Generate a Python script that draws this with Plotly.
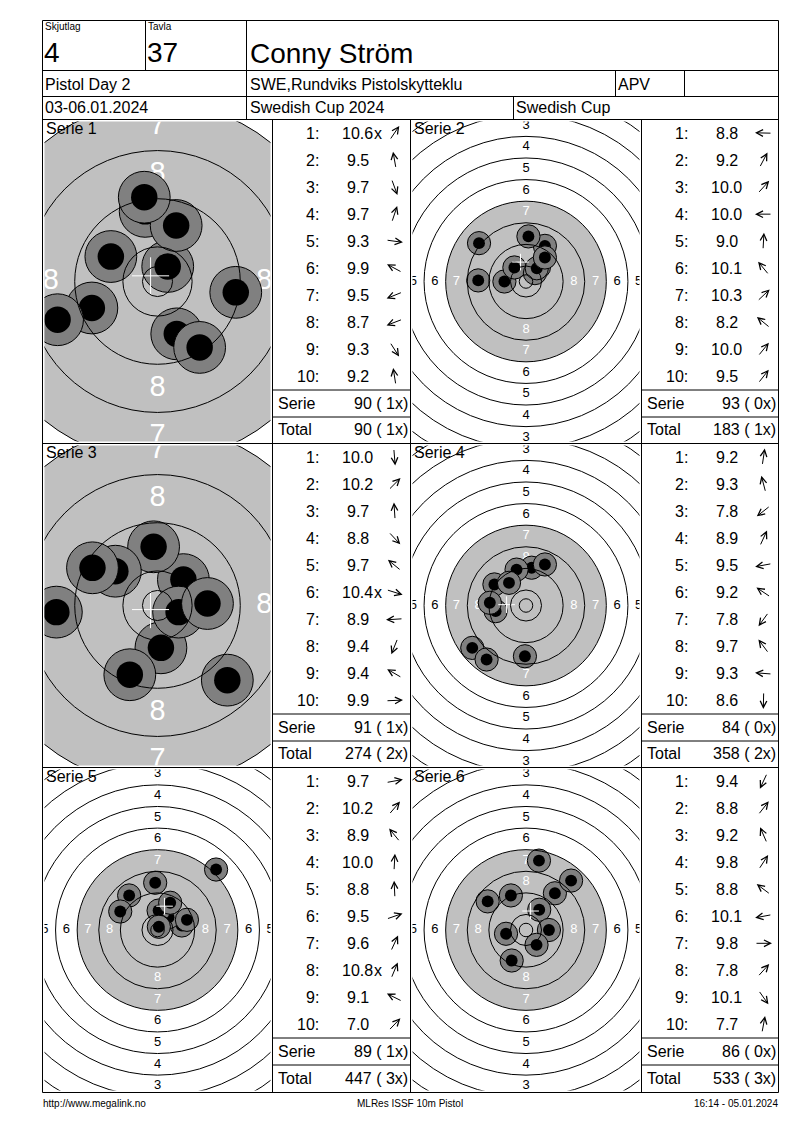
import math

import plotly.graph_objects as go

W, H = 800, 1130
FONT = "Liberation Sans, Arial, sans-serif"

# --- header / footer texts ---
RELAY_LABEL, RELAY = "Skjutlag", "4"
LANE_LABEL, LANE = "Tavla", "37"
SHOOTER = "Conny Ström"
EVENT = "Pistol Day 2"
CLUB = "SWE,Rundviks Pistolskytteklu"
CLASS = "APV"
DATES = "03-06.01.2024"
MATCH = "Swedish Cup 2024"
CUP = "Swedish Cup"
FOOT_LEFT = "http://www.megalink.no"
FOOT_MID = "MLRes ISSF 10m Pistol"
FOOT_RIGHT = "16:14 - 05.01.2024"

# --- ISSF 10m pistol target, radii in mm (ring 1 .. ring 10) ---
RING_R = [77.75, 69.75, 61.75, 53.75, 45.75, 37.75, 29.75, 21.75, 13.75, 5.75]
INNER_TEN_R = 2.5
AIM_R = 29.75
RING_LABELS = [1, 2, 3, 4, 5, 6, 7, 8]

# --- shots: score, position in mm from centre, inner tens (shot no.) ---
S1_SCORE = [10.6, 9.5, 9.7, 9.7, 9.3, 9.9, 9.5, 8.7, 9.3, 9.2]
S1_X = [1.7, -2.05, 3.2, 3.1, 13.0, -7.75, -10.9, -16.6, 7.0, -2.2]
S1_Y = [2.5, 11.65, -8.7, 9.3, -1.8, 4.15, -4.4, -6.35, -10.95, 14.0]
S1_INNER = [1]

S2_SCORE = [8.8, 9.2, 10.0, 10.0, 9.0, 10.1, 10.3, 8.2, 10.0, 9.5]
S2_X = [-17.7, 7.0, 4.8, -8.0, 0.9, -4.3, 3.3, -17.4, 4.0, 7.0]
S2_Y = [0.4, 13.2, 5.3, 0.0, 16.7, 5.2, 3.1, 14.2, 4.9, 8.9]
S2_INNER = []

S3_SCORE = [10.0, 10.2, 9.7, 8.8, 9.7, 10.4, 8.9, 9.4, 9.4, 9.9]
S3_X = [0.57, 4.3, -0.65, 11.6, -7.0, 3.5, -16.8, -4.6, -10.8, 8.3]
S3_Y = [-7.03, 4.3, 9.75, -12.4, 5.7, -1.1, -1.1, -11.5, 6.26, 0.33]
S3_INNER = [6]

S4_SCORE = [9.2, 9.3, 7.8, 8.9, 9.5, 9.2, 7.8, 9.7, 9.3, 8.6]
S4_X = [2.1, -3.5, -19.9, 7.0, -11.25, -11.7, -14.6, -6.3, -13.4, -0.4]
S4_Y = [14.0, 13.3, -15.7, 15.2, -2.1, 7.8, -20.0, 8.4, 1.0, -18.8]
S4_INNER = []

S5_SCORE = [9.7, 10.2, 8.9, 10.0, 8.8, 9.5, 9.6, 10.8, 9.1, 7.0]
S5_X = [9.0, 4.1, -10.5, 0.4, -0.86, 10.9, 4.7, 0.5, -13.8, 21.7]
S5_Y = [1.67, 4.75, 12.8, 7.2, 17.5, 3.77, 10.1, 1.2, 6.85, 22.4]
S5_INNER = [8]

S6_SCORE = [9.4, 8.8, 9.2, 9.8, 8.8, 10.1, 9.8, 7.8, 10.1, 7.7]
S6_X = [-5.3, 10.7, -5.6, 4.9, -14.2, -7.4, 8.5, 16.7, 3.9, 4.8]
S6_Y = [-11.3, 13.6, 12.8, 7.5, 10.6, -1.4, 0.0, 18.3, -5.5, 25.7]
S6_INNER = []

SERIES = [
    (S1_SCORE, S1_X, S1_Y, S1_INNER),
    (S2_SCORE, S2_X, S2_Y, S2_INNER),
    (S3_SCORE, S3_X, S3_Y, S3_INNER),
    (S4_SCORE, S4_X, S4_Y, S4_INNER),
    (S5_SCORE, S5_X, S5_Y, S5_INNER),
    (S6_SCORE, S6_X, S6_Y, S6_INNER),
]

# --- page geometry (px) ---
COLS = [42.5, 272.5, 410.5, 641.5, 778.5]
ROWS = [119.5, 443.5, 767.5, 1092.5]
ZOOM = [6.02, 2.70, 6.02, 2.70, 2.70, 2.70]   # px per mm, per serie
SHOT_R, DOT_R, CROSS_R = 4.3, 2.2, 2.2           # mm
AIM_GREY, SHOT_GREY = "#c0c0c0", "#808080"
ARROW_LEN = 17


def px(x):
    return x / W


def py(y):
    return 1 - y / H


fig = go.Figure()
shapes = []
notes = []


def line(x0, y0, x1, y1):
    shapes.append(dict(type="line", xref="paper", yref="paper",
                       x0=px(x0), y0=py(y0), x1=px(x1), y1=py(y1),
                       line=dict(color="black", width=1)))


def text(x, y, s, size=16, anchor="left", color="black"):
    notes.append(dict(x=px(x), y=py(y), xref="paper", yref="paper", text=s,
                      showarrow=False, xanchor=anchor, yanchor="middle",
                      font=dict(family=FONT, size=size, color=color)))


def arrow(xc, yc, deg):
    # flèche de direction du coup, centrée sur (xc, yc)
    a = math.radians(deg)
    dx, dy = math.cos(a) * ARROW_LEN / 2, -math.sin(a) * ARROW_LEN / 2
    notes.append(dict(x=px(xc + dx), y=py(yc + dy), xref="paper", yref="paper",
                      text="", showarrow=True, ax=-2 * dx, ay=-2 * dy,
                      arrowhead=5, arrowsize=1.3, arrowwidth=1, arrowcolor="black",
                      standoff=0, startstandoff=0))


# cadre + en-tête
line(42.5, 20.5, 778.5, 20.5)
line(42.5, 20.5, 42.5, ROWS[-1])
line(778.5, 20.5, 778.5, ROWS[-1])
for yy in (70.5, 96.5):
    line(42.5, yy, 778.5, yy)
for r in ROWS:
    line(42.5, r, 778.5, r)
line(145.5, 20.5, 145.5, 70.5)
line(246.5, 20.5, 246.5, 119.5)
line(615.5, 70.5, 615.5, 96.5)
line(684.5, 70.5, 684.5, 96.5)
line(513.5, 96.5, 513.5, 119.5)
for c in COLS[1:4]:
    line(c, ROWS[0], c, ROWS[-1])

text(43, 27, RELAY_LABEL, size=10)
text(42, 52, RELAY, size=28)
text(146, 27, LANE_LABEL, size=10)
text(145, 52, LANE, size=28)
text(248, 53, SHOOTER, size=28)
text(43, 84, EVENT)
text(248, 84, CLUB)
text(616, 84, CLASS)
text(43, 108, DATES)
text(248, 108, MATCH)
text(514, 108, CUP)
text(41, 1103, FOOT_LEFT, size=10)
text(410, 1103, FOOT_MID, size=10, anchor="center")
text(780, 1103, FOOT_RIGHT, size=10, anchor="right")

layout_axes = {}
total, total_x = 0, 0
for k, (scores, xs, ys, inner) in enumerate(SERIES):
    n = k + 1
    row, side = divmod(k, 2)
    t_left, t_right = COLS[2 * side], COLS[2 * side + 1]
    tab_left, tab_right = COLS[2 * side + 1], COLS[2 * side + 2]
    top, bot = ROWS[row], ROWS[row + 1]
    s = ZOOM[k]
    sid = "" if n == 1 else str(n)

    # axes de la cible (mm), centrées dans la case
    x0, x1 = t_left + 2, t_right - 2
    y0, y1 = top + 2, bot - 2
    hw = (x1 - x0) / 2 / s
    hh = (y1 - y0) / 2 / s
    layout_axes[f"xaxis{sid}"] = dict(domain=[px(x0), px(x1)], range=[-hw, hw],
                                      visible=False, anchor=f"y{sid}", fixedrange=True)
    layout_axes[f"yaxis{sid}"] = dict(domain=[py(y1), py(y0)], range=[-hh, hh],
                                      visible=False, anchor=f"x{sid}", fixedrange=True)

    # visuel noir (gris clair) + anneaux
    shapes.append(dict(type="circle", xref=f"x{sid}", yref=f"y{sid}",
                       x0=-AIM_R, x1=AIM_R, y0=-AIM_R, y1=AIM_R,
                       fillcolor=AIM_GREY, line=dict(width=0), layer="below"))
    for r in RING_R + [INNER_TEN_R]:
        shapes.append(dict(type="circle", xref=f"x{sid}", yref=f"y{sid}",
                           x0=-r, x1=r, y0=-r, y1=r, fillcolor="rgba(0,0,0,0)",
                           line=dict(color="black", width=1), layer="above"))

    # chiffres des zones
    lx, ly, lt, lc = [], [], [], []
    for band in RING_LABELS:
        rm = RING_R[band - 1] - 4
        for dx, dy in ((0, 1), (0, -1), (1, 0), (-1, 0)):
            lx.append(dx * rm)
            ly.append(dy * rm)
            lt.append(str(band))
            lc.append("white" if band >= 7 else "black")
    fig.add_trace(go.Scatter(x=lx, y=ly, text=lt, mode="text", xaxis=f"x{sid}", yaxis=f"y{sid}",
                             textfont=dict(family=FONT, size=4.8 * s, color=lc),
                             hoverinfo="skip", showlegend=False))

    # impacts : gris puis point noir, coup par coup
    mx, my, ms, mc, mw = [], [], [], [], []
    for x, y in zip(xs, ys):
        mx += [x, x]
        my += [y, y]
        ms += [2 * SHOT_R * s, 2 * DOT_R * s]
        mc += [SHOT_GREY, "black"]
        mw += [1, 0]
    fig.add_trace(go.Scatter(x=mx, y=my, mode="markers", xaxis=f"x{sid}", yaxis=f"y{sid}",
                             marker=dict(size=ms, color=mc, opacity=1,
                                         line=dict(color="black", width=mw)),
                             hoverinfo="skip", showlegend=False))

    # point moyen
    cx, cy = sum(xs) / len(xs), sum(ys) / len(ys)
    fig.add_trace(go.Scatter(x=[cx], y=[cy], mode="markers", xaxis=f"x{sid}", yaxis=f"y{sid}",
                             marker=dict(symbol="cross-thin", size=2 * CROSS_R * s, opacity=1,
                                         line=dict(color="white", width=1)),
                             hoverinfo="skip", showlegend=False))

    text(t_left + 1, top + 9, f"Serie {n}")

    # tableau des coups
    for i, sc in enumerate(scores):
        yy = top + 13.5 + i * 27.05
        text(tab_left + 48.5, yy, f"{i + 1}:", anchor="right")
        text(tab_left + 85, yy, f"{sc:.1f}", anchor="center")
        if i + 1 in inner:
            text(tab_left + 99, yy, "x")
        arrow(tab_left + 122, yy, math.degrees(math.atan2(ys[i], xs[i])))

    serie = sum(int(sc) for sc in scores)
    total += serie
    total_x += len(inner)
    line(tab_left, top + 270.5, tab_right, top + 270.5)
    line(tab_left, top + 297.5, tab_right, top + 297.5)
    text(tab_left + 3, top + 284, "Serie")
    text(tab_right - 1, top + 284, f"{serie} ({len(inner):2d}x)", anchor="right")
    text(tab_left + 3, top + 310.5, "Total")
    text(tab_right - 1, top + 310.5, f"{total} ({total_x:2d}x)", anchor="right")

fig.update_layout(
    width=W, height=H,
    margin=dict(l=0, r=0, t=0, b=0),
    paper_bgcolor="white", plot_bgcolor="white",
    showlegend=False,
    font=dict(family=FONT, color="black"),
    shapes=shapes,
    annotations=notes,
    **layout_axes,
)

fig.write_html("out.html", config={"displayModeBar": False},
               post_script="document.body.style.margin='0px';")
